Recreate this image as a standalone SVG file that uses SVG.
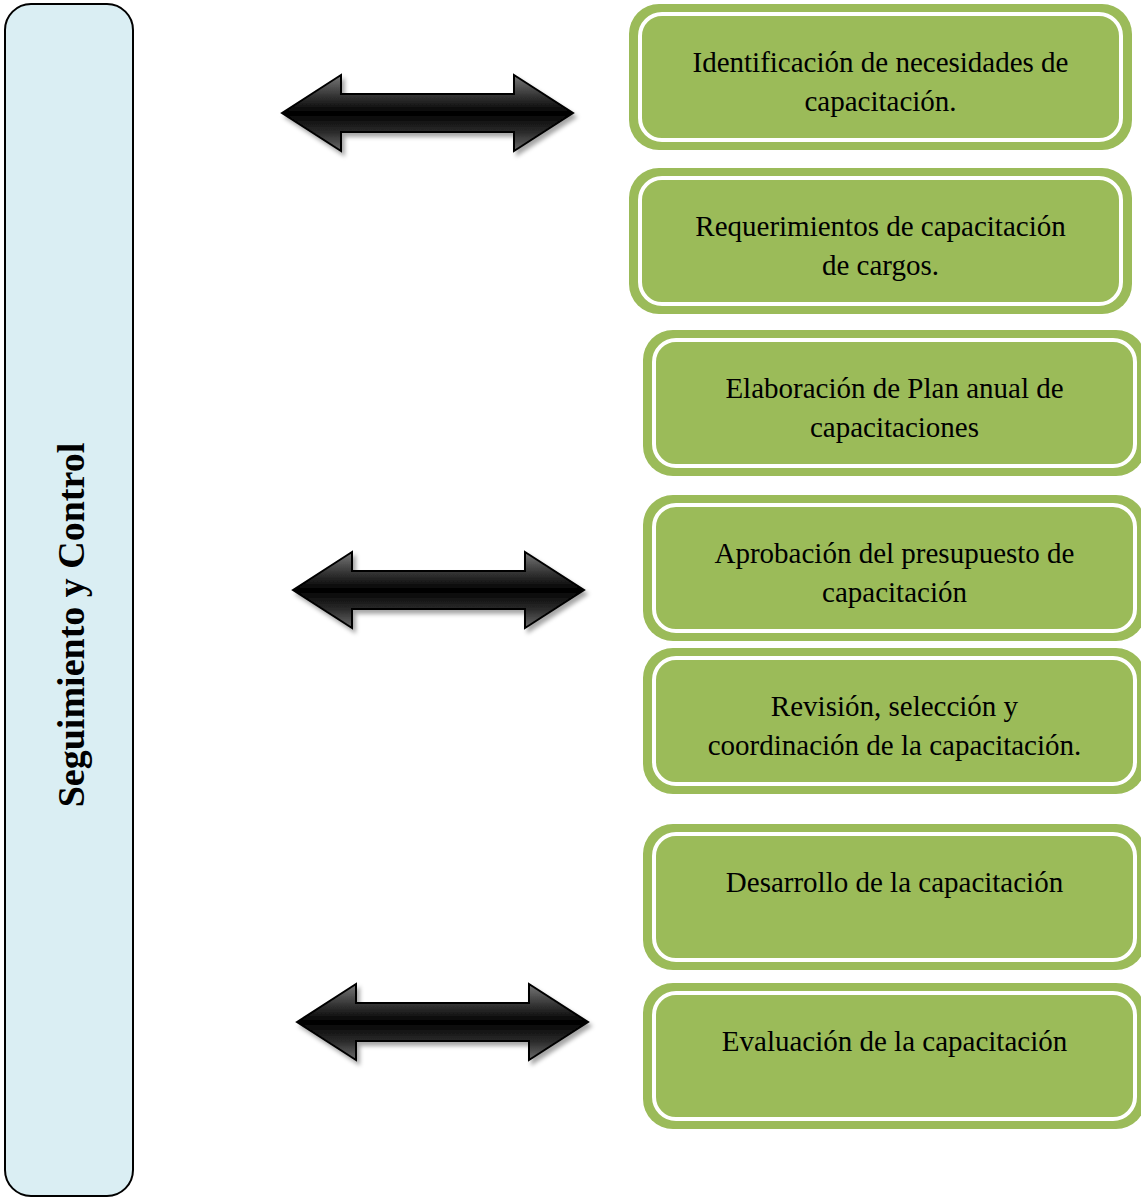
<svg xmlns="http://www.w3.org/2000/svg" width="1141" height="1200" viewBox="0 0 1141 1200">
<defs>
<style>
.outer{fill:#9BBB59;}
.inner{fill:none;stroke:#FFFFFF;stroke-width:4;}
.lbl{font-family:"Liberation Serif","Times New Roman",serif;font-size:29px;fill:#000;text-anchor:middle;}
.side{font-family:"Liberation Serif","Times New Roman",serif;font-size:38px;font-weight:bold;fill:#000;text-anchor:middle;}
.arr{fill:url(#ag);stroke:#000;stroke-width:2;stroke-linejoin:miter;filter:url(#sh);}
</style>
<linearGradient id="ag" x1="0" y1="0" x2="0" y2="1">
<stop offset="0" stop-color="#7a7a7a"/>
<stop offset="0.25" stop-color="#3a3a3a"/>
<stop offset="0.5" stop-color="#000"/>
<stop offset="0.75" stop-color="#2a2a2a"/>
<stop offset="1" stop-color="#6a6a6a"/>
</linearGradient>
<filter id="sh" x="-10%" y="-20%" width="125%" height="150%">
<feDropShadow dx="3" dy="4" stdDeviation="2" flood-color="#000" flood-opacity="0.35"/>
</filter>
<path id="dbl" d="M0,0 L59,-38 L59,-19 L232,-19 L232,-38 L291,0 L232,38 L232,19 L59,19 L59,38 Z"/>
</defs>

<g id="seguimiento">
<rect x="5" y="4" width="128" height="1192" rx="26" fill="#DAEEF3" stroke="#000" stroke-width="2"/>
<text class="side" transform="translate(84,625) rotate(-90)">Seguimiento y Control</text>
</g>

<g id="connectors">
<use href="#dbl" class="arr" transform="translate(282,113)"/>
<use href="#dbl" class="arr" transform="translate(293,590)"/>
<use href="#dbl" class="arr" transform="translate(297,1022)"/>
</g>

<g id="n1" transform="translate(629,4)">
<rect class="outer" width="503" height="146" rx="30"/>
<rect class="inner" x="11" y="10" width="481" height="126" rx="22"/>
<text class="lbl" x="251.5" y="68">Identificación de necesidades de</text>
<text class="lbl" x="251.5" y="107">capacitación.</text>
</g>

<g id="n2" transform="translate(629,168)">
<rect class="outer" width="503" height="146" rx="30"/>
<rect class="inner" x="11" y="10" width="481" height="126" rx="22"/>
<text class="lbl" x="251.5" y="68">Requerimientos de capacitación</text>
<text class="lbl" x="251.5" y="107">de cargos.</text>
</g>

<g id="n3" transform="translate(643,330)">
<rect class="outer" width="503" height="146" rx="30"/>
<rect class="inner" x="11" y="10" width="481" height="126" rx="22"/>
<text class="lbl" x="251.5" y="68">Elaboración de Plan anual de</text>
<text class="lbl" x="251.5" y="107">capacitaciones</text>
</g>

<g id="n4" transform="translate(643,495)">
<rect class="outer" width="503" height="146" rx="30"/>
<rect class="inner" x="11" y="10" width="481" height="126" rx="22"/>
<text class="lbl" x="251.5" y="68">Aprobación del presupuesto de</text>
<text class="lbl" x="251.5" y="107">capacitación</text>
</g>

<g id="n5" transform="translate(643,648)">
<rect class="outer" width="503" height="146" rx="30"/>
<rect class="inner" x="11" y="10" width="481" height="126" rx="22"/>
<text class="lbl" x="251.5" y="68">Revisión, selección y</text>
<text class="lbl" x="251.5" y="107">coordinación de la capacitación.</text>
</g>

<g id="n6" transform="translate(643,824)">
<rect class="outer" width="503" height="146" rx="30"/>
<rect class="inner" x="11" y="10" width="481" height="126" rx="22"/>
<text class="lbl" x="251.5" y="68">Desarrollo de la capacitación</text>
</g>

<g id="n7" transform="translate(643,983)">
<rect class="outer" width="503" height="146" rx="30"/>
<rect class="inner" x="11" y="10" width="481" height="126" rx="22"/>
<text class="lbl" x="251.5" y="68">Evaluación de la capacitación</text>
</g>
</svg>
